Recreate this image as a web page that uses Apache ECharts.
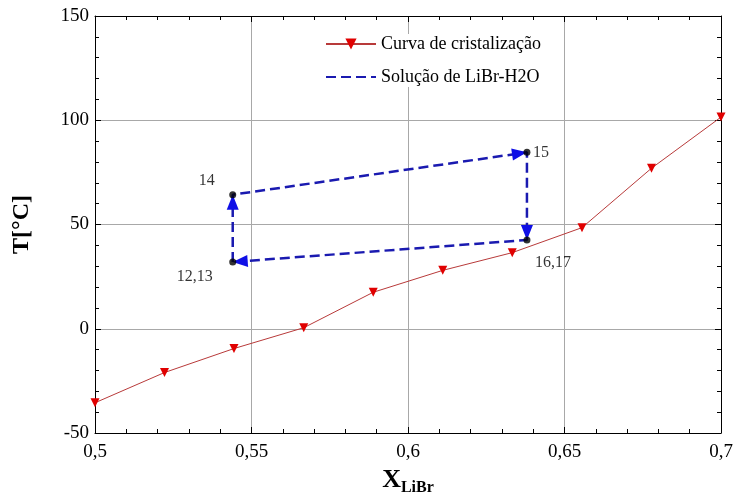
<!DOCTYPE html>
<html><head><meta charset="utf-8">
<script src="https://cdn.jsdelivr.net/npm/echarts@6/dist/echarts.min.js"></script>
<style>html,body{margin:0;padding:0;background:#fff}#c{width:734px;height:493px}</style>
</head><body><div id="c"></div>
<script>
// Curva de cristalização
const curveX = [0.5, 0.5222, 0.5444, 0.5667, 0.5889, 0.6111, 0.6333, 0.6556, 0.6778, 0.7];
const curveT = [-35.5, -21, -9.5, 0.5, 17.5, 28, 36.5, 48.5, 77, 101.5];
// Ciclo da solução de LiBr-H2O (ordem do ciclo)
const cycleNames = ['12,13', '14', '15', '16,17'];
const cycleX = [0.544, 0.544, 0.638, 0.638];
const cycleT = [32, 64.3, 84.6, 42.6];
// Eixos
const xMin = 0.5, xMax = 0.7, xStep = 0.05;
const yMin = -50, yMax = 150, yStep = 50;
const seriesNames = ['Curva de cristalização', 'Solução de LiBr-H2O'];

const FONT = '"Liberation Serif", "Times New Roman", serif';
const labelPos = {'12,13': [-38, 15], '14': [-26, -14], '15': [14, 0], '16,17': [26, 23]};

const chart = echarts.init(document.getElementById('c'), null, {renderer: 'canvas'});

const curveData = curveX.map((x, i) => [x, curveT[i]]);
// closed cycle path
const cyclePath = cycleX.map((x, i) => [x, cycleT[i]]).concat([[cycleX[0], cycleT[0]]]);
// segments (start -> end) for arrowheads
const segData = cycleX.map((x, i) => {
  const j = (i + 1) % cycleX.length;
  return [x, cycleT[i], cycleX[j], cycleT[j]];
});
const pts = cycleX.map((x, i) => ({value: [x, cycleT[i]], name: cycleNames[i]}));

const baseAxis = {
  axisLine: {show: true, onZero: false, lineStyle: {color: '#000', width: 1}},
  axisTick: {show: true, inside: true, length: 6, lineStyle: {color: '#000'}},
  minorTick: {show: true, splitNumber: 5, length: 4, lineStyle: {color: '#000'}},
};

chart.setOption({
  animation: false,
  backgroundColor: '#fff',
  textStyle: {fontFamily: FONT, color: '#000'},
  grid: {left: 95, right: 13, top: 16, bottom: 60, containLabel: false, outerBoundsMode: 'none'},
  legend: {
    orient: 'vertical', left: 325, top: 34, padding: 0, itemGap: 13,
    itemWidth: 50, itemHeight: 14, backgroundColor: '#fff',
    data: [
      {name: seriesNames[0]},
      {name: seriesNames[1], itemStyle: {opacity: 0}}
    ],
    textStyle: {fontFamily: FONT, fontSize: 18, color: '#000', lineHeight: 20}
  },
  xAxis: [
    Object.assign({}, baseAxis, {
      type: 'value', min: xMin, max: xMax, interval: xStep, position: 'bottom',
      axisLabel: {fontFamily: FONT, fontSize: 19, color: '#000', margin: 10,
        formatter: v => String(Math.round(v * 100) / 100).replace('.', ',')},
      splitLine: {show: true, lineStyle: {color: '#a8a8a8', width: 1}},
      name: '{x|X}{s|LiBr}', nameLocation: 'middle', nameGap: 30,
      nameTextStyle: {rich: {
        x: {fontFamily: FONT, fontWeight: 'bold', fontSize: 26, lineHeight: 26, verticalAlign: 'top', color: '#000'},
        s: {fontFamily: FONT, fontWeight: 'bold', fontSize: 16, lineHeight: 16, verticalAlign: 'top', padding: [13, 0, 0, 0], color: '#000'}
      }}
    }),
    Object.assign({}, baseAxis, {
      type: 'value', min: xMin, max: xMax, interval: xStep, position: 'top',
      axisLabel: {show: false}, splitLine: {show: false}
    })
  ],
  yAxis: [
    Object.assign({}, baseAxis, {
      type: 'value', min: yMin, max: yMax, interval: yStep, position: 'left',
      axisLabel: {fontFamily: FONT, fontSize: 19, color: '#000', margin: 6},
      splitLine: {show: true, lineStyle: {color: '#a8a8a8', width: 1}},
      name: 'T[°C]', nameLocation: 'middle', nameGap: 61, nameRotate: 90,
      nameTextStyle: {fontFamily: FONT, fontWeight: 'bold', fontSize: 24, color: '#000'}
    }),
    Object.assign({}, baseAxis, {
      type: 'value', min: yMin, max: yMax, interval: yStep, position: 'right',
      axisLabel: {show: false}, splitLine: {show: false}
    })
  ],
  series: [
    {
      name: seriesNames[0], type: 'line', data: curveData, clip: false,
      symbol: 'triangle', symbolRotate: 180, symbolSize: 9,
      itemStyle: {color: '#e00000'},
      lineStyle: {color: '#b83a3a', width: 1},
      z: 2
    },
    {
      name: seriesNames[1], type: 'line', data: cyclePath,
      symbol: 'none', itemStyle: {color: '#1a1ab0'},
      lineStyle: {color: '#1a1ab0', width: 2.5, type: [10, 5]},
      z: 3
    },
    {
      name: 'setas', type: 'custom', coordinateSystem: 'cartesian2d',
      data: segData, encode: {x: [0, 2], y: [1, 3]}, silent: true,
      renderItem: (params, api) => {
        const a = api.coord([api.value(0), api.value(1)]);
        const b = api.coord([api.value(2), api.value(3)]);
        const dx = b[0] - a[0], dy = b[1] - a[1];
        const L = Math.hypot(dx, dy) || 1;
        const ux = dx / L, uy = dy / L;
        const len = 15, hw = 6;
        const bx = b[0] - ux * len, by = b[1] - uy * len;
        return {
          type: 'polygon',
          shape: {points: [b, [bx - uy * hw, by + ux * hw], [bx + uy * hw, by - ux * hw]]},
          style: {fill: '#0f0fe6', stroke: 'none'}
        };
      },
      z: 4
    },
    {
      name: 'pontos', type: 'scatter', data: pts,
      symbol: 'circle', symbolSize: 7, itemStyle: {color: '#000'},
      label: {show: true, formatter: p => p.name, position: 'inside',
        fontFamily: FONT, fontSize: 16, color: '#000'},
      labelLayout: p => {
        const o = labelPos[cycleNames[p.dataIndex]];
        return {dx: o[0], dy: o[1]};
      },
      z: 5
    }
  ]
});
</script>
</body></html>
